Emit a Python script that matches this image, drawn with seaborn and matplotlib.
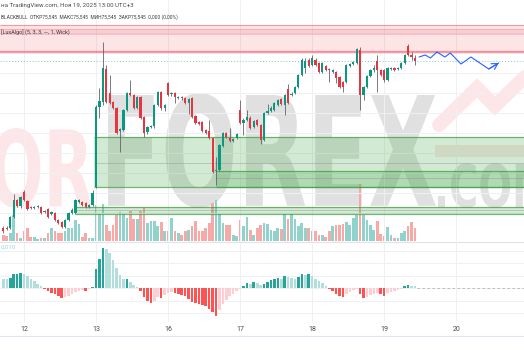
import numpy as np
import matplotlib
matplotlib.use("Agg")
import matplotlib.pyplot as plt
import seaborn as sns
from matplotlib.textpath import TextPath
from matplotlib.patches import PathPatch, Rectangle
from matplotlib.font_manager import FontProperties
from matplotlib.transforms import Affine2D, IdentityTransform
from matplotlib.lines import Line2D

sns.set_theme(style="white")
plt.rcParams["font.family"] = ["Roboto", "DejaVu Sans"]

# ---------------- data (hourly bars) ----------------
open_ = [73.85, 73.85, 73.85, 73.96, 74.13, 74.07, 74.21, 74.12, 74.06, 74.05,
         74.06, 74.06, 74.01, 74.04, 73.99, 74.00, 73.93, 73.91, 73.86, 73.93,
         74.00, 74.00, 74.11, 74.11, 74.10, 74.06, 74.08, 74.26, 75.06, 75.11,
         75.44, 75.20, 75.11, 75.05, 74.82, 74.83, 75.03, 75.20, 75.18, 75.05,
         75.16, 74.96, 74.81, 74.86, 74.87, 75.08, 75.21, 75.05, 75.30, 75.19,
         75.20, 75.15, 75.16, 75.15, 75.10, 75.15, 74.97, 74.91, 74.91, 74.83,
         74.82, 74.75, 74.42, 74.43, 74.67, 74.80, 74.75, 74.72, 74.75, 75.03,
         74.90, 74.93, 74.95, 74.86, 74.93, 74.88, 74.73, 75.00, 75.02, 75.03,
         75.08, 75.14, 75.08, 75.24, 75.18, 75.20, 75.26, 75.38, 75.45, 75.53,
         75.48, 75.53, 75.50, 75.41, 75.47, 75.44, 75.41, 75.41, 75.36, 75.31,
         75.31, 75.47, 75.49, 75.50, 75.63, 75.18, 75.26, 75.37, 75.43, 75.52,
         75.43, 75.43, 75.33, 75.44, 75.45, 75.44, 75.45, 75.50, 75.67, 75.58,
         75.55]
high_ = [73.87, 73.87, 73.97, 74.19, 74.14, 74.17, 74.23, 74.13, 74.07, 74.07,
         74.08, 74.07, 74.03, 74.05, 74.02, 74.01, 73.94, 73.92, 73.94, 74.01,
         74.05, 74.14, 74.14, 74.12, 74.11, 74.09, 74.23, 75.08, 75.25, 75.71,
         75.48, 75.38, 75.12, 75.06, 74.85, 75.04, 75.21, 75.33, 75.19, 75.17,
         75.17, 74.97, 74.87, 74.88, 75.09, 75.22, 75.22, 75.09, 75.31, 75.21,
         75.21, 75.17, 75.17, 75.16, 75.15, 75.16, 74.98, 74.92, 74.92, 74.84,
         74.93, 74.76, 74.56, 74.69, 74.81, 74.81, 74.85, 74.75, 74.80, 75.13,
         74.95, 75.03, 74.97, 74.93, 74.94, 74.89, 75.01, 75.09, 75.07, 75.11,
         75.14, 75.15, 75.19, 75.29, 75.21, 75.27, 75.39, 75.55, 75.55, 75.55,
         75.58, 75.55, 75.51, 75.51, 75.48, 75.45, 75.44, 75.42, 75.37, 75.32,
         75.49, 75.50, 75.52, 75.65, 75.66, 75.27, 75.38, 75.44, 75.48, 75.58,
         75.44, 75.44, 75.46, 75.46, 75.46, 75.46, 75.51, 75.59, 75.69, 75.61,
         75.58]
low_ = [73.80, 73.83, 73.84, 73.95, 74.06, 74.05, 74.12, 74.03, 74.04, 74.04,
        74.05, 73.99, 74.00, 73.95, 73.98, 73.92, 73.89, 73.85, 73.85, 73.92,
        73.99, 73.99, 74.10, 74.07, 74.05, 74.05, 74.07, 74.25, 74.95, 75.08,
        75.10, 75.09, 75.04, 74.79, 74.61, 74.82, 75.02, 75.17, 75.04, 75.04,
        74.94, 74.76, 74.79, 74.85, 74.85, 75.07, 75.03, 75.02, 75.17, 75.17,
        75.10, 75.14, 75.13, 75.09, 74.99, 74.95, 74.89, 74.88, 74.81, 74.79,
        74.74, 74.40, 74.28, 74.42, 74.66, 74.75, 74.71, 74.71, 74.74, 74.89,
        74.78, 74.92, 74.84, 74.85, 74.87, 74.69, 74.72, 74.99, 75.01, 75.02,
        75.07, 75.08, 74.98, 75.09, 75.17, 75.19, 75.25, 75.37, 75.40, 75.46,
        75.47, 75.47, 75.40, 75.40, 75.42, 75.31, 75.40, 75.30, 75.25, 75.21,
        75.30, 75.46, 75.48, 75.49, 75.03, 75.13, 75.25, 75.36, 75.41, 75.21,
        75.37, 75.31, 75.32, 75.43, 75.42, 75.43, 75.44, 75.49, 75.57, 75.53,
        75.48]
close_ = [73.82, 73.84, 73.96, 74.13, 74.07, 74.16, 74.13, 74.04, 74.05, 74.06,
          74.06, 74.00, 74.02, 73.96, 74.01, 73.93, 73.90, 73.86, 73.93, 74.00,
          74.03, 74.13, 74.13, 74.08, 74.06, 74.08, 74.20, 75.06, 75.12, 75.45,
          75.11, 75.10, 75.05, 74.80, 74.84, 75.03, 75.20, 75.18, 75.05, 75.16,
          74.95, 74.80, 74.86, 74.87, 75.08, 75.21, 75.05, 75.08, 75.18, 75.20,
          75.16, 75.16, 75.15, 75.10, 75.14, 74.96, 74.90, 74.89, 74.82, 74.80,
          74.75, 74.41, 74.43, 74.68, 74.80, 74.76, 74.72, 74.74, 74.79, 74.90,
          74.93, 74.96, 74.85, 74.92, 74.88, 74.73, 75.00, 75.02, 75.05, 75.10,
          75.13, 75.09, 75.18, 75.10, 75.19, 75.26, 75.38, 75.53, 75.52, 75.47,
          75.55, 75.48, 75.41, 75.50, 75.43, 75.43, 75.43, 75.35, 75.26, 75.26,
          75.48, 75.49, 75.51, 75.64, 75.18, 75.26, 75.37, 75.43, 75.45, 75.43,
          75.38, 75.33, 75.45, 75.45, 75.43, 75.45, 75.50, 75.58, 75.58, 75.56,
          75.52]
volume_k = [6, 5, 8, 26, 8, 3, 10, 13, 4, 4,
            2, 3, 3, 8, 13, 10, 8, 8, 10, 13,
            13, 21, 17, 4, 8, 3, 3, 36, 28, 37,
            16, 10, 16, 26, 29, 28, 23, 30, 22, 22,
            30, 33, 18, 20, 20, 15, 19, 10, 10, 23,
            10, 8, 6, 10, 11, 15, 20, 10, 10, 13,
            18, 38, 41, 28, 18, 16, 16, 6, 5, 21,
            15, 24, 11, 6, 13, 16, 18, 17, 11, 10,
            13, 12, 28, 22, 28, 22, 15, 18, 13, 13,
            10, 10, 6, 6, 4, 10, 15, 16, 16, 17,
            19, 16, 23, 26, 57, 26, 21, 16, 11, 20,
            7, 5, 14, 6, 3, 3, 8, 10, 15, 19,
            13]
macd_hist = [0.0036, 0.0036, 0.0040, 0.0056, 0.0058, 0.0060, 0.0056, 0.0048, 0.0036, 0.0028,
             0.0016, 0.0008, -0.0004, -0.0012, -0.0020, -0.0024, -0.0032, -0.0040, -0.0036, -0.0032,
             -0.0024, -0.0016, -0.0012, -0.0008, -0.0010, -0.0004, 0.0004, 0.0076, 0.0116, 0.0160,
             0.0158, 0.0140, 0.0112, 0.0080, 0.0052, 0.0036, 0.0038, 0.0024, 0.0012, 0.0004,
             -0.0012, -0.0036, -0.0052, -0.0060, -0.0052, -0.0036, -0.0038, -0.0028, -0.0020, -0.0016,
             -0.0020, -0.0024, -0.0028, -0.0032, -0.0044, -0.0056, -0.0060, -0.0064, -0.0068, -0.0072,
             -0.0084, -0.0096, -0.0112, -0.0088, -0.0064, -0.0048, -0.0032, -0.0024, -0.0012, -0.0004,
             0.0008, 0.0020, 0.0019, 0.0024, 0.0020, 0.0012, 0.0016, 0.0024, 0.0032, 0.0036,
             0.0040, 0.0039, 0.0048, 0.0044, 0.0040, 0.0039, 0.0044, 0.0056, 0.0055, 0.0057,
             0.0048, 0.0036, 0.0028, 0.0020, 0.0008, -0.0002, -0.0012, -0.0024, -0.0032, -0.0036,
             -0.0024, -0.0016, -0.0008, -0.0004, -0.0024, -0.0040, -0.0036, -0.0028, -0.0024, -0.0020,
             -0.0024, -0.0032, -0.0020, -0.0016, -0.0012, -0.0008, -0.0004, 0.0008, 0.0012, 0.0011,
             0.0008]
forecast_bar = [121.2, 123.0, 124.5, 126.4, 128.7, 130.3, 133.4, 136.3, 141.5, 144.4]
forecast_price = [75.56, 75.58, 75.55, 75.61, 75.56, 75.60, 75.49, 75.56, 75.44, 75.50]

day_tick_bars = [6, 27, 48, 69, 90, 111, 132]
day_labels = ["12", "13", "16", "17", "18", "19", "20"]

supply_bottom, supply_top = 75.613, 75.88
supply_band = (75.787, 75.837)
last_price = 75.523
demand_start = [26.55, 61.9, 21.0]
demand_bottom = [74.26, 74.26, 73.987]
demand_top = [74.76, 74.42, 74.063]
demand_mid = [74.50, 74.35, 74.03]

# ---------------- layout ----------------
W, H = 524, 350
XMIN, XMAX = -0.99, 151.78

fig = plt.figure(figsize=(W / 100, H / 100), dpi=100, facecolor="white")
renderer = fig.canvas.get_renderer()


def rect(top, bottom):
    return [0, 1 - bottom / H, 1, (bottom - top) / H]


ax_vol = fig.add_axes(rect(180, 240.5), zorder=1)
ax = fig.add_axes(rect(0, 241), zorder=2)
ax_m = fig.add_axes(rect(243, 322), zorder=1)
for a in (ax_vol, ax, ax_m):
    a.set_facecolor("none")
    for s in a.spines.values():
        s.set_visible(False)
    a.tick_params(length=0)
    a.set_axisbelow(True)

grid_kw = dict(color="#eef0f5", lw=0.7)

idx = np.arange(len(open_))
o = np.array(open_); c = np.array(close_); h = np.array(high_); l = np.array(low_)
up = c >= o

# volume
ax_vol.bar(idx, volume_k, width=0.78, color=np.where(up, "#92d2cc", "#f7a9a8"), lw=0)
ax_vol.set_xlim(XMIN, XMAX)
ax_vol.set_ylim(0, 60.5)
ax_vol.set_xticks([]); ax_vol.set_yticks([])

# main price pane
ax.set_xticks(day_tick_bars)
ax.set_xticklabels([])
ax.set_yticks(np.arange(74.0, 75.81, 0.2))
ax.set_yticklabels([])
ax.grid(True, **grid_kw)

ax.fill_between([XMIN, XMAX], supply_bottom, supply_top, color="#f23645", alpha=0.13, lw=0, zorder=1)
ax.fill_between([XMIN, XMAX], *supply_band, color="#f23645", alpha=0.12, lw=0, zorder=1)
ax.hlines(list(supply_band), XMIN, XMAX, color="#f23645", alpha=0.25, lw=0.6, zorder=1)
ax.hlines(supply_top, XMIN, XMAX, color="#f23645", alpha=0.45, lw=0.8, zorder=1)
ax.hlines(supply_bottom, XMIN, XMAX, color="#f23645", alpha=0.5, lw=1.6, zorder=1)

for s0, b, t, m in zip(demand_start, demand_bottom, demand_top, demand_mid):
    ax.fill_between([s0, XMAX], b, t, color="#4caf50", alpha=0.25, lw=0, zorder=1)
    ax.hlines([b, t], s0, XMAX, color="#43a047", alpha=0.75, lw=0.9, zorder=2)
    ax.hlines(m, s0, XMAX, color="#8a8a8a", alpha=0.45, lw=0.6, zorder=2)

ax.hlines(last_price, XMIN, XMAX, color="#80cbc4", lw=0.7, linestyles=(0, (1, 2)), zorder=2)

ax.vlines(idx, l, h, color="#60636f", lw=0.6, zorder=3)
body_b = np.minimum(o, c)
body_h = np.maximum(np.abs(c - o), 0.012)
ax.bar(idx, body_h, bottom=body_b, width=0.64,
       color=np.where(up, "#089981", "#e8343f"), lw=0, zorder=4)

sns.lineplot(x=forecast_bar, y=forecast_price, ax=ax, color="#2962ff", lw=0.8,
             sort=False, estimator=None, zorder=5)
ax.annotate("", xy=(forecast_bar[-1], forecast_price[-1]),
            xytext=(forecast_bar[-2], forecast_price[-2]),
            arrowprops=dict(arrowstyle="->,head_length=0.35,head_width=0.2",
                            color="#2962ff", lw=0.8, shrinkA=0, shrinkB=0), zorder=5)
ax.set_xlim(XMIN, XMAX)
ax.set_ylim(73.72, 76.13)
ax.set_xlabel(""); ax.set_ylabel("")

# MACD histogram pane
hist = np.array(macd_hist)
prev = np.r_[hist[0], hist[:-1]]
mcol = np.where(hist >= 0, np.where(hist > prev, "#26a69a", "#b2dfdb"),
                np.where(hist < prev, "#ff5252", "#ffcdd2"))
ax_m.bar(idx, hist, width=0.75, color=mcol, lw=0)
ax_m.hlines(0, idx[-1] + 0.6, XMAX, color="#b0b3bd", lw=0.6, linestyles=(0, (3, 3)))
ax_m.set_xlim(XMIN, XMAX)
ax_m.set_ylim(-0.01348, 0.01812)
ax_m.set_yticks([-0.01, -0.005, 0, 0.005, 0.01, 0.015])
ax_m.set_yticklabels([])
ax_m.set_xticks(day_tick_bars)
ax_m.set_xticklabels(day_labels)
ax_m.tick_params(axis="x", labelsize=5, labelcolor="#4a4a4a", pad=2.9)
ax_m.grid(True, **grid_kw)

# pane separators
for yy in (241.5, 336):
    fig.add_artist(Line2D([0, 1], [1 - yy / H] * 2, transform=fig.transFigure,
                          color="#e0e3eb", lw=0.8))


# ---------------- watermark ----------------
def watermark(s, x0, x1, ytop, ybot, color, alpha):
    tp = TextPath((0, 0), s, size=100, prop=FontProperties(family="DejaVu Sans", weight="bold"))
    bb = tp.get_extents()
    tr = (Affine2D().translate(-bb.x0, -bb.y0)
          .scale((x1 - x0) / bb.width, (ybot - ytop) / bb.height)
          .translate(x0, H - ybot))
    fig.add_artist(PathPatch(tr.transform_path(tp), facecolor=color, alpha=alpha, lw=0,
                             transform=IdentityTransform(), zorder=0.5))


watermark("OR", -8, 92, 128, 208, "#f23645", 0.12)
watermark("FOREX", 108, 436, 93, 208, "#7f7f7f", 0.24)
watermark(".COM", 438, 548, 163, 208, "#7f7f7f", 0.24)
fig.add_artist(Line2D([439, 477, 495, 534], [H - 125, H - 88, H - 106, H - 68],
                      transform=IdentityTransform(), color="#f23645", alpha=0.12, lw=10,
                      solid_joinstyle="miter", zorder=0.5))
fig.add_artist(Rectangle((435, H - 157), 100, 12, transform=IdentityTransform(),
                         facecolor="#f23645", alpha=0.12, lw=0, zorder=0.5))


# ---------------- header texts ----------------
def header(s, x0, x_end, y, color, fs0=5.0):
    t = fig.text(x0 / W, 1 - y / H, s, fontsize=fs0, ha="left", va="center",
                 color=color, zorder=10)
    w = t.get_window_extent(renderer).width
    t.set_fontsize(fs0 * (x_end - x0) / w)
    return t


header("на TradingView.com, Ноя 19, 2025 13:00 UTC+3", 1, 134, 6, "#4a4a4a")
header("BLACKBULL  ОТКР75,545  МАКС75,545  МИН75,545  ЗАКР75,545  0,000 (0,00%)", 1, 178, 17, "#3a3a3a")
header("[LuxAlgo] (5, 3, 3, —, 1, Wick)", 1, 70, 32, "#3a3a3a")
header("0,010", 1, 16, 247, "#9ed6cf")

fig.savefig("out.png", dpi=100, facecolor="white")
